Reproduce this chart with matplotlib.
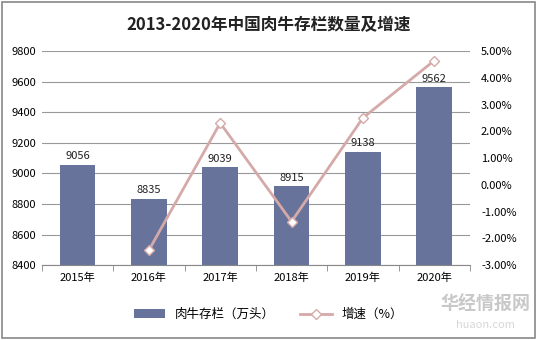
import numpy as np
import matplotlib
matplotlib.use('Agg')
import matplotlib.pyplot as plt
from matplotlib.patches import Rectangle

plt.rcParams['font.family'] = ['Noto Sans CJK SC', 'DejaVu Sans']

years = ['2015年', '2016年', '2017年', '2018年', '2019年', '2020年']
stock = [9056, 8835, 9039, 8915, 9138, 9562]
growth_years = [1, 2, 3, 4, 5]
growth = [-2.44, 2.31, -1.37, 2.50, 4.64]

bar_color = '#67739b'
line_color = '#d6a9a9'

fig = plt.figure(figsize=(5.37, 3.40), dpi=100)
fig.patches.append(Rectangle((0.004, 0.006), 0.992, 0.988, transform=fig.transFigure,
                             fill=False, edgecolor='#888888', lw=1.2))
ax = fig.add_axes([0.078, 0.22, 0.797, 0.63])

x = np.arange(len(years))
bars = ax.bar(x, stock, 0.5, color=bar_color, zorder=2, label='肉牛存栏（万头）')
for xi, v in zip(x, stock):
    ax.text(xi, v + 25, str(v), ha='center', va='bottom', fontsize=8, color='#222222', zorder=5)

ax.set_ylim(8400, 9800)
ax.set_yticks(np.arange(8400, 9801, 200))
ax.set_xlim(-0.5, len(years) - 0.5)
ax.set_xticks(x)
ax.set_xticklabels(years)
ax.set_xticks(np.arange(-0.5, len(years), 1), minor=True)
ax.tick_params(axis='x', which='major', length=0, labelsize=8, pad=5)
ax.tick_params(axis='x', which='minor', length=4, color='#888888')
ax.tick_params(axis='y', length=0, labelsize=8, pad=4)
ax.grid(axis='y', color='#999999', lw=0.8, zorder=0)
for s in ['top', 'right', 'left']:
    ax.spines[s].set_visible(False)
ax.spines['bottom'].set_color('#888888')

ax2 = ax.twinx()
line, = ax2.plot(growth_years, growth, color=line_color, lw=2, marker='D', markersize=5,
                 markerfacecolor='white', markeredgecolor=line_color, zorder=4, label='增速（%）')
ax2.set_ylim(-3, 5)
ax2.set_yticks(np.arange(-3, 5.01, 1))
ax2.set_yticklabels(['%.2f%%' % v for v in np.arange(-3, 5.01, 1)])
ax2.tick_params(axis='y', length=0, labelsize=8, pad=8)
for s in ['top', 'right', 'left', 'bottom']:
    ax2.spines[s].set_visible(False)

fig.text(0.5, 0.925, '2013-2020年中国肉牛存栏数量及增速', ha='center', va='center',
         fontsize=12, fontweight='bold', color='#222222')

fig.legend([bars, line], ['肉牛存栏（万头）', '增速（%）'], loc='center', ncol=2,
           bbox_to_anchor=(0.5, 0.075), frameon=False, fontsize=9, handlelength=2.5,
           columnspacing=2.0)

fig.text(0.905, 0.105, '华经情报网', ha='center', va='center', fontsize=13,
         fontweight='bold', color='#bbbbbb', alpha=0.8)
fig.text(0.905, 0.045, 'huaon.com', ha='center', va='center', fontsize=8,
         color='#cccccc', alpha=0.8)

fig.savefig('out.png', dpi=100)
